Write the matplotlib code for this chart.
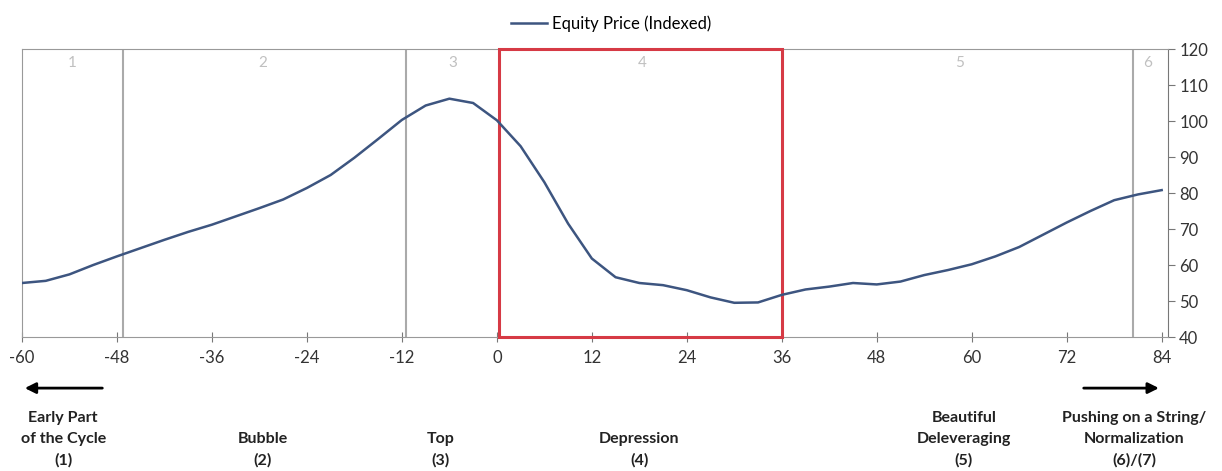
import matplotlib
matplotlib.use("Agg")
import matplotlib.pyplot as plt
from matplotlib.patches import Rectangle
from matplotlib.transforms import blended_transform_factory

plt.rcParams['font.family'] = ['Lato', 'DejaVu Sans']
plt.rcParams['axes.unicode_minus'] = False

# months relative to the start of the depression, and indexed equity price
months = [-60, -57, -54, -51, -48, -45, -42, -39, -36, -33, -30, -27, -24, -21, -18,
          -15, -12, -9, -6, -3, 0, 3, 6, 9, 12, 15, 18, 21, 24, 27, 30, 33, 36,
          39, 42, 45, 48, 51, 54, 57, 60, 63, 66, 69, 72, 75, 78, 81, 84]
equity = [55.0, 55.6, 57.4, 60.0, 62.4, 64.7, 67.0, 69.2, 71.2, 73.5, 75.8, 78.2, 81.4,
          85.0, 89.8, 95.0, 100.3, 104.3, 106.2, 105.0, 100.2, 93.0, 83.0, 71.5, 61.8,
          56.6, 55.0, 54.4, 53.0, 51.0, 49.5, 49.6, 51.7, 53.2, 54.0, 55.0, 54.6, 55.4,
          57.2, 58.6, 60.2, 62.4, 65.0, 68.4, 71.8, 75.0, 78.0, 79.6, 80.8]

x_ticks = list(range(-60, 85, 12))
y_ticks = list(range(40, 121, 10))

# phase dividers and phase numbers
dividers = [-47.3, -11.5, 80.4]
phase_nums = ['1', '2', '3', '4', '5', '6']
phase_num_x = [-53.6, -29.6, -5.6, 18.4, 58.4, 82.2]
depression = (0.3, 36)

phase_names = ['Early Part\nof the Cycle\n(1)', 'Bubble\n(2)', 'Top\n(3)',
               'Depression\n(4)', 'Beautiful\nDeleveraging\n(5)',
               'Pushing on a String/\nNormalization\n(6)/(7)']
phase_name_x = [-54.8, -29.6, -7.1, 18.0, 59.0, 80.5]

fig = plt.figure(figsize=(12.22, 4.71), dpi=100)
ax = fig.add_axes([22 / 1222, 134 / 471, 1146 / 1222, 288 / 471])

for d in dividers:
    ax.axvline(d, color='#aaaaaa', lw=1.5, zorder=1)

ax.add_patch(Rectangle((depression[0], 40), depression[1] - depression[0], 80,
                       fill=False, edgecolor='#d63a45', lw=2.2, zorder=3, clip_on=False))

ax.plot(months, equity, color='#3d5580', lw=1.8, label='Equity Price (Indexed)',
        zorder=4, solid_joinstyle='round')

for n, xp in zip(phase_nums, phase_num_x):
    ax.text(xp, 116, n, color='#c0c0c0', fontsize=11, ha='center', va='center')

ax.set_xlim(-60, 84.8)
ax.set_ylim(40, 120)
ax.set_xticks(x_ticks)
ax.set_yticks(y_ticks)
ax.yaxis.tick_right()
ax.tick_params(axis='x', direction='inout', length=7, color='#777777', labelsize=12,
               labelcolor='#333333', pad=6)
ax.tick_params(axis='y', direction='out', length=5, color='#777777', labelsize=12,
               labelcolor='#333333', pad=3)
for s in ['left', 'top', 'bottom']:
    ax.spines[s].set_color('#999999')
ax.spines['right'].set_color('#777777')

fig.legend(loc='upper center', bbox_to_anchor=(0.5, 1.0), frameon=False, fontsize=12,
           handlelength=2.2, handletextpad=0.3)

# bottom phase labels and arrows
tr = blended_transform_factory(ax.transData, fig.transFigure)
for name, xp in zip(phase_names, phase_name_x):
    ax.text(xp, 0.008, name, transform=tr, ha='center', va='bottom', fontsize=11.5,
            fontweight='bold', color='#222222', linespacing=1.6)

ax.annotate('', xy=(-60, 0.176), xytext=(-49.5, 0.176), xycoords=tr, textcoords=tr,
            arrowprops=dict(arrowstyle='-|>', color='black', lw=2, mutation_scale=16))
ax.annotate('', xy=(84, 0.176), xytext=(73.8, 0.176), xycoords=tr, textcoords=tr,
            arrowprops=dict(arrowstyle='-|>', color='black', lw=2, mutation_scale=16))

fig.savefig('out.png', dpi=100, facecolor='white')
